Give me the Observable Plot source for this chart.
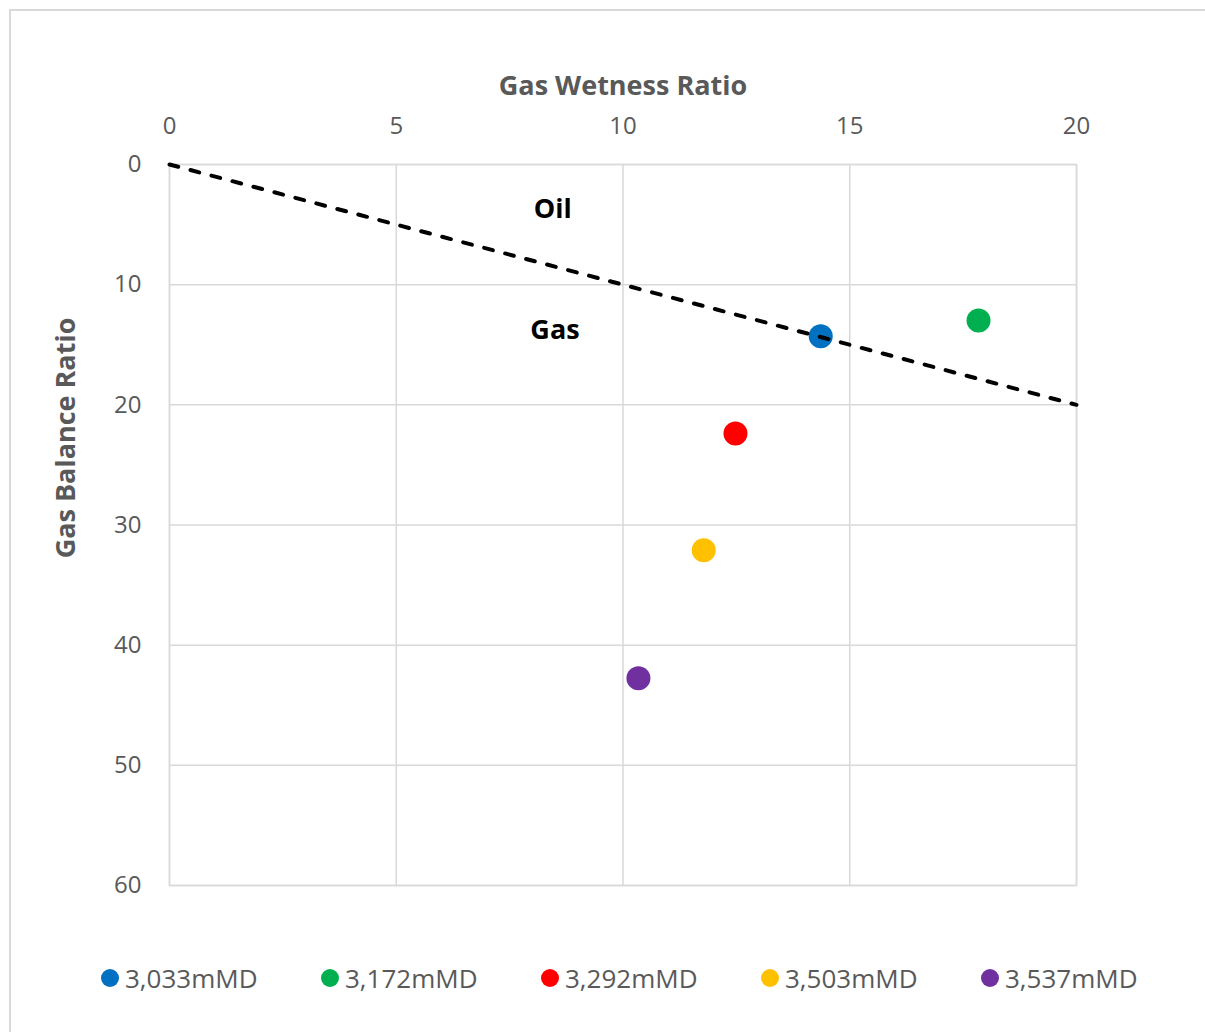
<!DOCTYPE html>
<html><head><meta charset="utf-8">
<script src="https://cdn.jsdelivr.net/npm/d3@7"></script>
<script src="https://cdn.jsdelivr.net/npm/@observablehq/plot@0.6"></script>
<style>
body{margin:0;background:#fff;width:1205px;height:1032px;overflow:hidden;position:relative;font-family:"Open Sans",sans-serif}
#frame{position:absolute;left:9px;top:9px;width:1220px;height:1050px;border:2px solid #d9d9d9;box-sizing:border-box}
#chart{position:absolute;left:0;top:0}
#legend{position:absolute;top:960px;left:0;width:1205px;height:40px}
.item{position:absolute;top:0;display:flex;align-items:center;height:36px;font-size:26px;color:#595959;white-space:nowrap}
.dot{width:18px;height:18px;border-radius:50%;margin-right:6px}
</style></head>
<body>
<div id="frame"></div>
<div id="chart"></div>
<div id="legend"></div>
<script>
// Data
const depths = ["3,033mMD", "3,172mMD", "3,292mMD", "3,503mMD", "3,537mMD"];
const wetness = [14.36, 17.84, 12.48, 11.78, 10.34];
const balance = [14.3, 12.98, 22.38, 32.1, 42.76];
const colors = ["#0070C0", "#00B050", "#FF0000", "#FFC000", "#7030A0"];
const boundaryX = [0, 20];
const boundaryY = [0, 20];
const zoneLabels = ["Oil", "Gas"];
const zoneX = [8.45, 8.5];
const zoneY = [3.7, 13.8];
const xTicks = [0, 5, 10, 15, 20];
const yTicks = [0, 10, 20, 30, 40, 50, 60];

const pts = depths.map((d, i) => ({depth: d, x: wetness[i], y: balance[i]}));
const line = boundaryX.map((x, i) => ({x, y: boundaryY[i]}));
const zones = zoneLabels.map((t, i) => ({t, x: zoneX[i], y: zoneY[i]}));

const chart = Plot.plot({
  width: 1205,
  height: 930,
  marginTop: 164,
  marginLeft: 169,
  marginRight: 129,
  marginBottom: 45,
  style: {fontFamily: '"Open Sans", sans-serif', background: "transparent", overflow: "visible"},
  x: {domain: [0, 20], ticks: xTicks},
  y: {domain: [0, 60], ticks: yTicks, reverse: true},
  color: {domain: depths, range: colors},
  marks: [
    Plot.gridX(xTicks, {stroke: "#d9d9d9", strokeOpacity: 1, strokeWidth: 1.5}),
    Plot.gridY(yTicks, {stroke: "#d9d9d9", strokeOpacity: 1, strokeWidth: 1.5}),
    Plot.frame({stroke: "#d9d9d9", strokeWidth: 1.5}),
    Plot.axisX(xTicks, {anchor: "top", tickSize: 0, tickPadding: 31, fontSize: 24, fill: "#595959", label: null}),
    Plot.axisY(yTicks, {anchor: "left", tickSize: 0, tickPadding: 28, fontSize: 24, fill: "#595959", label: null}),
    Plot.text(["Gas Wetness Ratio"], {frameAnchor: "top", dy: -89, text: d => d, fontSize: 27, fontWeight: "bold", fill: "#595959"}),
    Plot.text(["Gas Balance Ratio"], {frameAnchor: "left", textAnchor: "middle", dx: -103, dy: -87, rotate: -90, text: d => d, fontSize: 27, fontWeight: "bold", fill: "#595959"}),
    Plot.dot(pts, {x: "x", y: "y", fill: "depth", r: 12}),
    Plot.line(line, {x: "x", y: "y", stroke: "black", strokeWidth: 4, strokeLinecap: "round", strokeDasharray: "9 12.7"}),
    Plot.text(zones, {x: "x", y: "y", text: "t", fontSize: 27, fontWeight: "bold", fill: "black"})
  ]
});
document.getElementById("chart").appendChild(chart);

const legend = document.getElementById("legend");
depths.forEach((d, i) => {
  const it = document.createElement("div");
  it.className = "item";
  it.style.left = (101 + i * 220) + "px";
  it.innerHTML = `<span class="dot" style="background:${colors[i]}"></span><span>${d}</span>`;
  legend.appendChild(it);
});
</script>
</body></html>
